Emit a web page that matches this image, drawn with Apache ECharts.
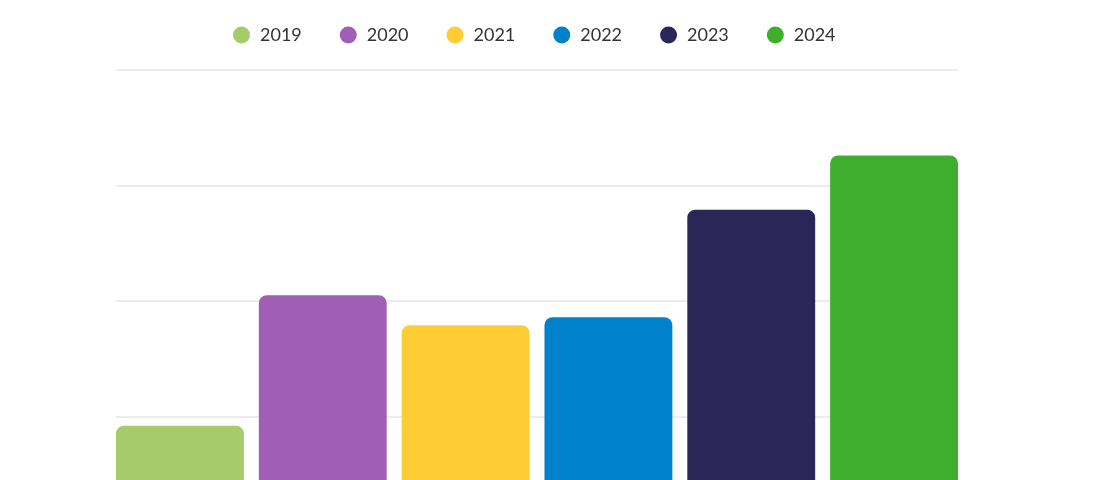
<!DOCTYPE html>
<html>
<head>
<meta charset="utf-8">
<style>
  html, body { margin: 0; padding: 0; background: #fff; }
  #chart { width: 1100px; height: 480px; }
</style>
<script src="https://cdn.jsdelivr.net/npm/echarts@6/dist/echarts.min.js"></script>
</head>
<body>
<div id="chart"></div>
<script>
// 数据
var years = ['2019', '2020', '2021', '2022', '2023', '2024']
var values = [0.92, 2.05, 1.79, 1.86, 2.79, 3.26]
var colors = ['#a6cb69', '#a05eb5', '#ffcd33', '#0081cc', '#2a2658', '#3daf2c']

var chart = echarts.init(document.getElementById('chart'))

var series = years.map(function (y, i) {
  return {
    name: y,
    type: 'bar',
    data: [values[i]],
    barGap: '11.7%',
    barCategoryGap: 0,
    itemStyle: { color: colors[i], borderRadius: [8, 8, 0, 0] }
  }
})

chart.setOption({
  animation: false,
  color: colors,
  legend: {
    data: years,
    left: 228,
    top: 21,
    icon: 'circle',
    itemWidth: 17,
    itemHeight: 17,
    itemGap: 38,
    textStyle: {
      fontFamily: 'Lato',
      fontSize: 18,
      color: '#333',
      padding: [0, 0, 0, 5]
    }
  },
  // 网格延伸到画面下方（x轴被裁掉）
  grid: {
    left: 116,
    right: 142,
    top: 70,
    height: 462,
    outerBoundsMode: 'none'
  },
  xAxis: {
    type: 'category',
    data: [''],
    axisLine: { show: false },
    axisTick: { show: false },
    axisLabel: { show: false }
  },
  yAxis: {
    type: 'value',
    min: 0,
    max: 4,
    interval: 1,
    axisLabel: { show: false },
    axisLine: { show: false },
    axisTick: { show: false },
    splitLine: { lineStyle: { color: '#e6e6e6', width: 1.5 } }
  },
  series: series
})
</script>
</body>
</html>
